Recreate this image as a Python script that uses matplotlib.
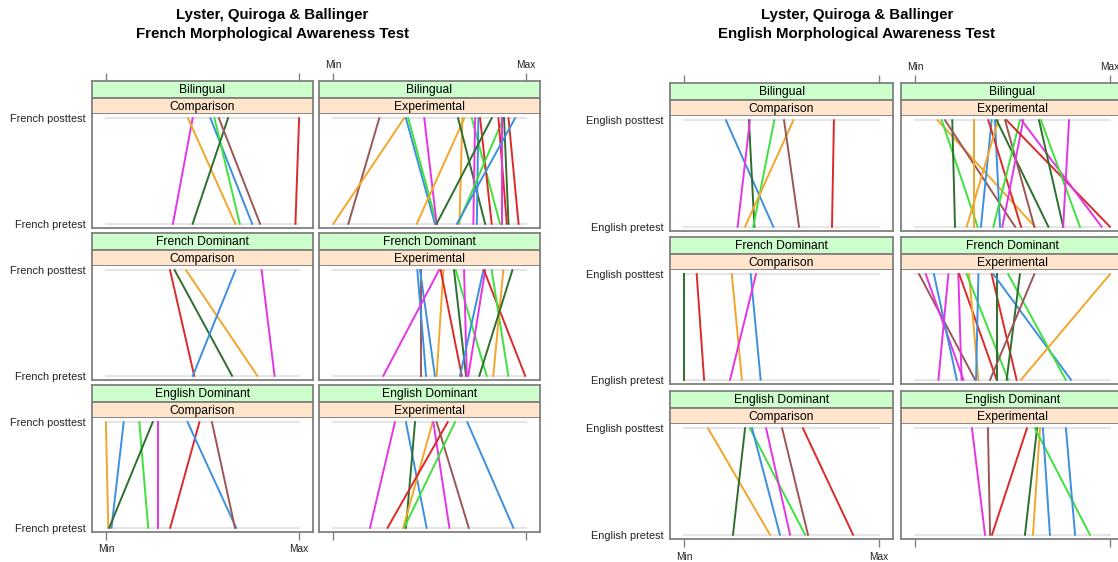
import matplotlib
matplotlib.use("Agg")
import matplotlib.pyplot as plt

plt.rcParams['font.family'] = ['Liberation Sans', 'DejaVu Sans']

W, H = 1118, 562

groups = ['Bilingual', 'French Dominant', 'English Dominant']
conditions = ['Comparison', 'Experimental']

palette = {
    'blue': '#3d8fe0', 'orange': '#f2a62b', 'green': '#3de23d',
    'dkgreen': '#2e6f2e', 'magenta': '#e535e5', 'red': '#dc2a2a',
    'brown': '#9c5656',
}

# ---- French test: scaled scores (0 = Min, 1 = Max) ----
fr_bil_cmp_pre = [0.347, 0.670, 0.757, 0.693, 0.449, 0.798, 0.981]
fr_bil_cmp_post = [0.449, 0.425, 0.541, 0.562, 0.632, 0.585, 1.000]
fr_bil_cmp_col = ['magenta', 'orange', 'blue', 'green', 'dkgreen', 'brown', 'red']

fr_bil_exp_pre = [0.080, 0.002, 0.528, 0.537, 0.537, 0.434, 0.655, 0.788, 0.865, 0.727,
                  0.745, 0.822, 0.537, 0.648, 0.900, 0.874, 0.909, 0.961, 0.642]
fr_bil_exp_post = [0.240, 0.368, 0.378, 0.390, 0.473, 0.680, 0.670, 0.648, 0.719, 0.736,
                   0.753, 0.762, 0.822, 0.883, 0.857, 0.874, 0.886, 0.909, 0.943]
fr_bil_exp_col = ['brown', 'orange', 'blue', 'green', 'magenta', 'orange', 'orange', 'dkgreen',
                  'green', 'magenta', 'blue', 'red', 'dkgreen', 'green', 'red', 'magenta',
                  'dkgreen', 'red', 'blue']

fr_fd_cmp_pre = [0.457, 0.653, 0.784, 0.450, 0.873]
fr_fd_cmp_post = [0.332, 0.356, 0.415, 0.670, 0.806]
fr_fd_cmp_col = ['red', 'dkgreen', 'orange', 'blue', 'magenta']

fr_fd_exp_pre = [0.458, 0.482, 0.528, 0.261, 0.537, 0.667, 0.689, 0.796, 0.693, 0.658,
                 0.701, 0.995, 0.908, 0.830, 0.758]
fr_fd_exp_post = [0.458, 0.437, 0.451, 0.549, 0.572, 0.558, 0.627, 0.636, 0.679, 0.779,
                  0.788, 0.782, 0.822, 0.882, 0.929]
fr_fd_exp_col = ['brown', 'blue', 'blue', 'magenta', 'orange', 'red', 'dkgreen', 'green',
                 'magenta', 'blue', 'magenta', 'red', 'green', 'orange', 'dkgreen']

fr_ed_cmp_pre = [0.012, 0.029, 0.219, 0.017, 0.268, 0.333, 0.674, 0.668]
fr_ed_cmp_post = [0.000, 0.092, 0.173, 0.242, 0.268, 0.484, 0.423, 0.549]
fr_ed_cmp_col = ['orange', 'blue', 'green', 'dkgreen', 'magenta', 'red', 'blue', 'brown']

fr_ed_exp_pre = [0.192, 0.485, 0.378, 0.364, 0.603, 0.703, 0.283, 0.369, 0.934]
fr_ed_exp_post = [0.321, 0.378, 0.425, 0.516, 0.520, 0.537, 0.594, 0.632, 0.696]
fr_ed_exp_col = ['magenta', 'blue', 'dkgreen', 'orange', 'magenta', 'brown', 'red', 'green', 'blue']

# ---- English test ----
en_bil_cmp_pre = [0.458, 0.361, 0.275, 0.355, 0.313, 0.590, 0.759]
en_bil_cmp_post = [0.215, 0.333, 0.338, 0.463, 0.561, 0.513, 0.769]
en_bil_cmp_col = ['blue', 'dkgreen', 'magenta', 'green', 'orange', 'brown', 'red']

en_bil_exp_pre = [0.615, 0.321, 0.205, 0.513, 0.304, 0.338, 0.436, 0.544, 0.265, 0.684,
                  0.612, 0.402, 0.448, 1.000, 0.957, 0.760, 0.846, 0.760]
en_bil_exp_post = [0.116, 0.137, 0.191, 0.154, 0.304, 0.393, 0.410, 0.376, 0.427, 0.419,
                   0.462, 0.538, 0.555, 0.470, 0.547, 0.636, 0.646, 0.790]
en_bil_exp_col = ['orange', 'green', 'dkgreen', 'brown', 'orange', 'blue', 'blue', 'red',
                  'orange', 'dkgreen', 'brown', 'green', 'magenta', 'red', 'magenta',
                  'dkgreen', 'green', 'magenta']

en_fd_cmp_pre = [0.000, 0.103, 0.297, 0.393, 0.236]
en_fd_cmp_post = [0.000, 0.065, 0.245, 0.342, 0.369]
en_fd_cmp_col = ['dkgreen', 'red', 'orange', 'blue', 'magenta']

en_fd_exp_pre = [0.308, 0.248, 0.214, 0.120, 0.239, 0.419, 0.325, 0.478, 0.313, 0.521,
                 0.419, 0.800, 0.773, 0.470, 0.385, 0.544]
en_fd_exp_post = [0.021, 0.055, 0.097, 0.171, 0.222, 0.227, 0.277, 0.265, 0.325, 0.393,
                  0.419, 0.402, 0.478, 0.538, 0.612, 1.000]
en_fd_exp_col = ['brown', 'magenta', 'blue', 'magenta', 'magenta', 'red', 'orange', 'green',
                 'blue', 'red', 'dkgreen', 'blue', 'green', 'dkgreen', 'brown', 'orange']

en_ed_cmp_pre = [0.441, 0.251, 0.621, 0.492, 0.544, 0.636, 0.867]
en_ed_cmp_post = [0.123, 0.313, 0.338, 0.349, 0.421, 0.503, 0.610]
en_ed_cmp_col = ['orange', 'dkgreen', 'green', 'blue', 'magenta', 'brown', 'red']

en_ed_exp_pre = [0.359, 0.385, 0.395, 0.564, 0.605, 0.897, 0.692, 0.821]
en_ed_exp_post = [0.292, 0.374, 0.574, 0.626, 0.641, 0.615, 0.656, 0.774]
en_ed_exp_col = ['magenta', 'brown', 'red', 'dkgreen', 'orange', 'green', 'blue', 'blue']

french = [[(fr_bil_cmp_pre, fr_bil_cmp_post, fr_bil_cmp_col),
           (fr_bil_exp_pre, fr_bil_exp_post, fr_bil_exp_col)],
          [(fr_fd_cmp_pre, fr_fd_cmp_post, fr_fd_cmp_col),
           (fr_fd_exp_pre, fr_fd_exp_post, fr_fd_exp_col)],
          [(fr_ed_cmp_pre, fr_ed_cmp_post, fr_ed_cmp_col),
           (fr_ed_exp_pre, fr_ed_exp_post, fr_ed_exp_col)]]
english = [[(en_bil_cmp_pre, en_bil_cmp_post, en_bil_cmp_col),
            (en_bil_exp_pre, en_bil_exp_post, en_bil_exp_col)],
           [(en_fd_cmp_pre, en_fd_cmp_post, en_fd_cmp_col),
            (en_fd_exp_pre, en_fd_exp_post, en_fd_exp_col)],
           [(en_ed_cmp_pre, en_ed_cmp_post, en_ed_cmp_col),
            (en_ed_exp_pre, en_ed_exp_post, en_ed_exp_col)]]

XLIM = (-0.072, 1.072)
YLIM = (-0.04, 1.04)
BORDER = '#808080'
GREEN_STRIP = '#ccffcc'
PEACH_STRIP = '#ffe5cc'

fig = plt.figure(figsize=(W / 100, H / 100), dpi=100)


def px_rect(x0, y0, x1, y1):
    return [x0 / W, 1 - y1 / H, (x1 - x0) / W, (y1 - y0) / H]


def strip(rect, label, color):
    ax = fig.add_axes(px_rect(*rect))
    ax.set_facecolor(color)
    ax.set_xlim(XLIM)
    ax.set_ylim(0, 1)
    ax.set_xticks([])
    ax.set_yticks([])
    for s in ax.spines.values():
        s.set_color(BORDER)
        s.set_linewidth(1.3)
    ax.text(0.5, 0.45, label, transform=ax.transAxes, ha='center', va='center', fontsize=8.7)
    return ax


def draw_block(data, test, title_x, cols, rows):
    fig.text(title_x / W, 1 - 15 / H, 'Lyster, Quiroga & Ballinger',
             ha='center', va='center', fontsize=10.8, fontweight='bold')
    fig.text(title_x / W, 1 - 34 / H, f'{test} Morphological Awareness Test',
             ha='center', va='center', fontsize=10.8, fontweight='bold')
    for r, (top, bottom) in enumerate(rows):
        for c, (left, right) in enumerate(cols):
            sg = strip((left, top, right, top + 17), groups[r], GREEN_STRIP)
            strip((left, top + 17, right, top + 33), conditions[c], PEACH_STRIP)
            if r == 0:
                sg.xaxis.set_ticks_position('top')
                sg.set_xticks([0, 1])
                sg.set_xticklabels(['Min', 'Max'] if c == 1 else ['', ''], fontsize=7.3)
                sg.tick_params(axis='x', direction='out', length=6, width=1,
                               color=BORDER, pad=2, labelcolor='#222222')

            ax = fig.add_axes(px_rect(left, top + 33, right, bottom))
            ax.set_xlim(XLIM)
            ax.set_ylim(YLIM)
            for s in ax.spines.values():
                s.set_color(BORDER)
                s.set_linewidth(1.3)
            ax.spines['top'].set_visible(False)
            for yv in (0, 1):
                ax.plot([0, 1], [yv, yv], color='#e6e6e6', lw=1.5, zorder=1)
            pre, post, col = data[r][c]
            for a, b, k in zip(pre, post, col):
                ax.plot([a, b], [0, 1], color=palette[k], lw=1.4, zorder=2)

            if r == len(rows) - 1:
                ax.set_xticks([0, 1])
                ax.set_xticklabels(['Min', 'Max'] if c == 0 else ['', ''], fontsize=7.3)
                ax.tick_params(axis='x', direction='out', length=6, width=1,
                               color=BORDER, pad=3, labelcolor='#222222')
            else:
                ax.set_xticks([])
            if c == 0:
                ax.set_yticks([0, 1])
                ax.set_yticklabels([f'{test} pretest', f'{test} posttest'], fontsize=7.8)
                ax.tick_params(axis='y', length=0, pad=4.5, labelcolor='#222222')
            else:
                ax.set_yticks([])


draw_block(french, 'French', 272,
           cols=[(92, 313), (319, 540)],
           rows=[(81, 228), (233, 380), (385, 532)])
draw_block(english, 'English', 857,
           cols=[(670, 893), (901, 1124)],
           rows=[(83, 231), (237, 384), (391, 539)])

fig.savefig('out.png', dpi=100)
